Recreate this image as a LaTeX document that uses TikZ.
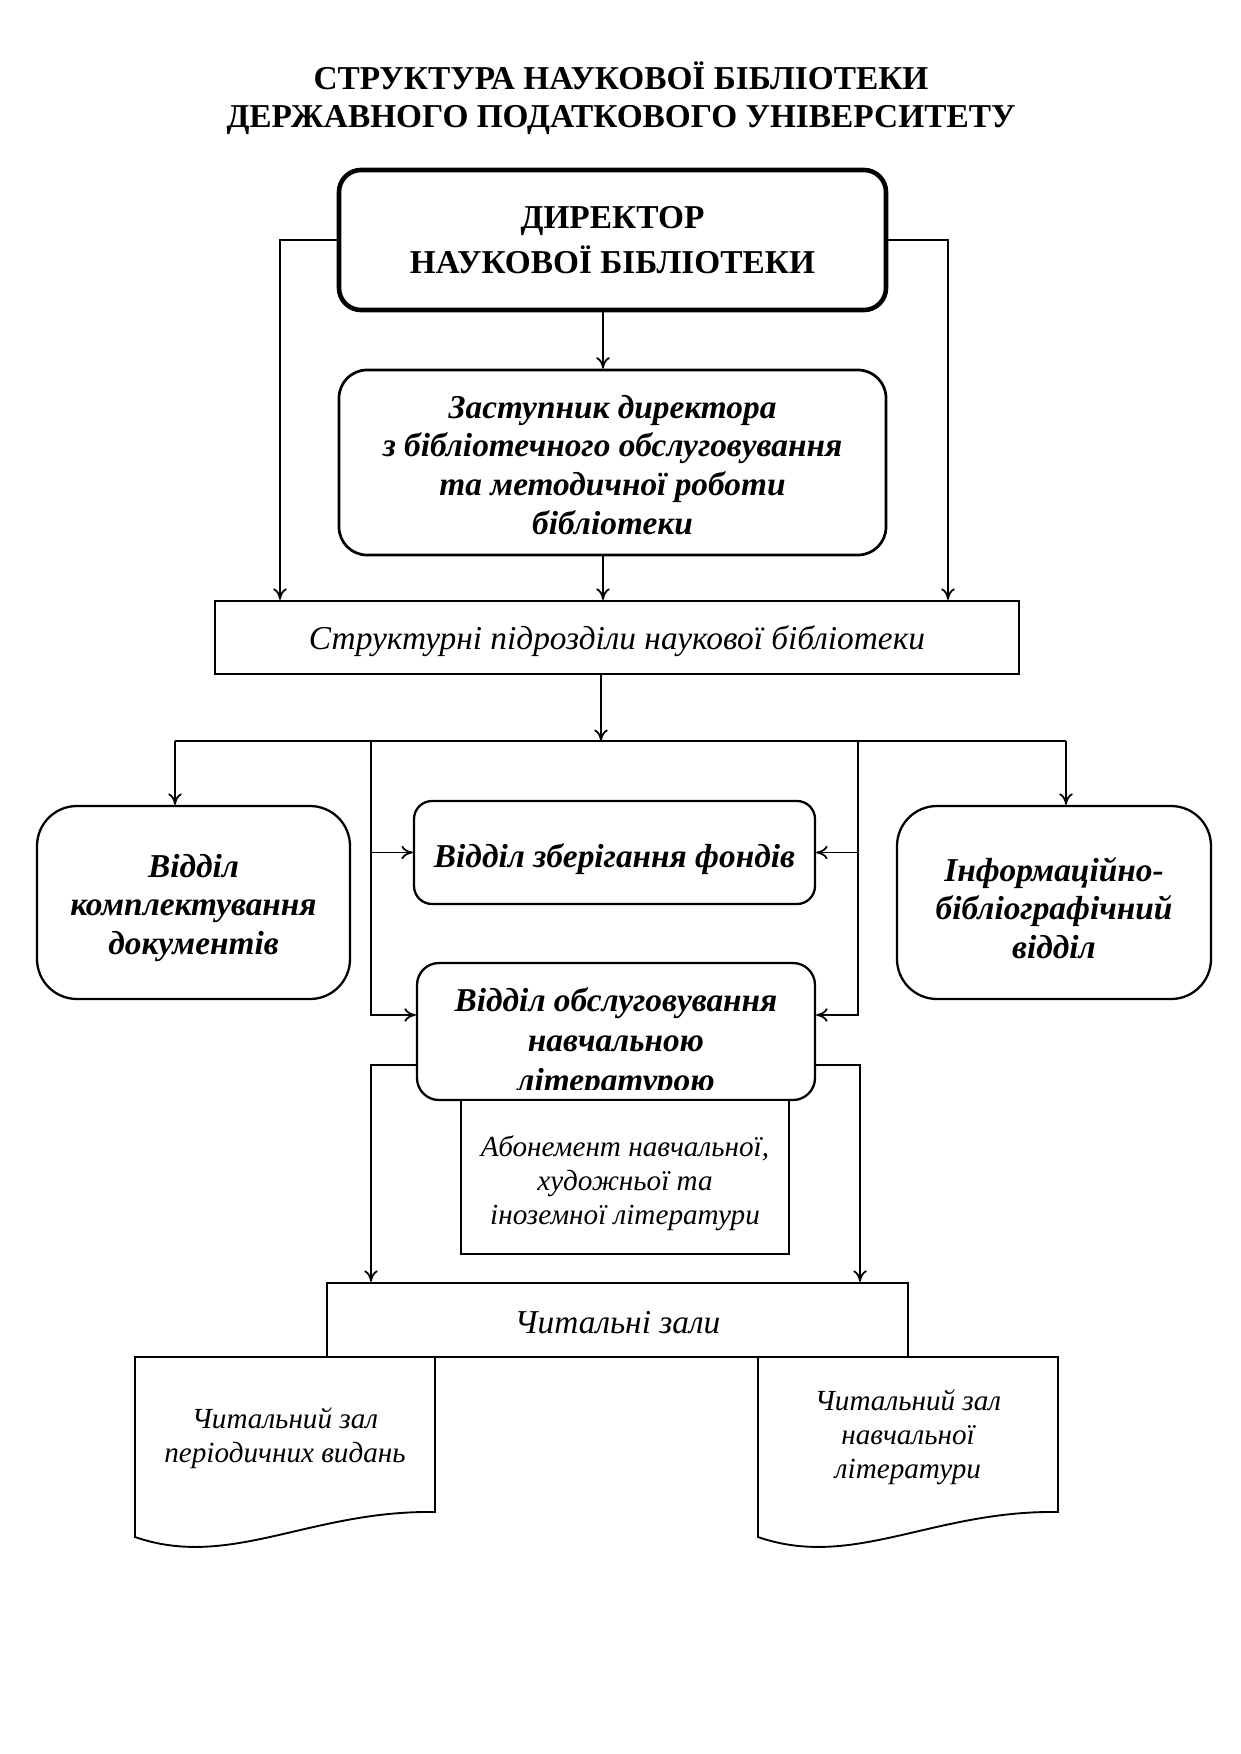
\documentclass[tikz,border=0pt]{standalone}
\usepackage{fontspec}
\setmainfont{Liberation Serif}
\usetikzlibrary{arrows.meta,calc}
\newdimen\pxu
\pxu=0.4797pt
\begin{document}
\begin{tikzpicture}[x=0.4797pt,y=-0.4797pt,
  every node/.style={inner sep=0pt, align=center},
  bx/.style={draw, line width=1.1pt},
  arr/.style={line width=0.85pt, -{To[length=5.5pt,width=6.5pt]}},
  ln/.style={line width=0.85pt},
  tb/.style={font=\fontsize{16}{18.6}\selectfont\bfseries\itshape},
  ti/.style={font=\fontsize{16}{18.6}\selectfont\itshape},
  tis/.style={font=\fontsize{14}{16.2}\selectfont\itshape},
  docs/.style={draw, line width=0.9pt},
]
\useasboundingbox (0,0) rectangle (1241,1754);
% title
\node[font=\fontsize{16}{18}\selectfont\bfseries, anchor=base] (t1) at (621,90) {СТРУКТУРА НАУКОВОЇ БІБЛІОТЕКИ};
\node[font=\fontsize{16}{18}\selectfont\bfseries, anchor=base] (t2) at (621,127) {ДЕРЖАВНОГО ПОДАТКОВОГО УНІВЕРСИТЕТУ};
% boxes
\node[bx, line width=2.2pt, rounded corners=22\pxu, minimum width=547\pxu, minimum height=140\pxu,
      font=\fontsize{16}{21.5}\selectfont\bfseries] (dir) at (612.5,240) {ДИРЕКТОР\\НАУКОВОЇ БІБЛІОТЕКИ};
\node[bx, line width=1.3pt, rounded corners=28\pxu, minimum width=547\pxu, minimum height=185\pxu] (dep) at (612.5,462.5) {};
\node[tb] (dept) at (612.5,465) {Заступник директора\\з бібліотечного обслуговування\\та методичної роботи\\бібліотеки};
\node[bx, minimum width=804\pxu, minimum height=73\pxu] (str) at (617,637.5) {};
\node[ti] (strt) at (617,641.5) {Структурні підрозділи наукової бібліотеки};
\node[bx, rounded corners=40\pxu, minimum width=313\pxu, minimum height=193\pxu] (kom) at (193.5,902.5) {};
\node[tb] (komt) at (193.5,908) {Відділ\\комплектування\\документів};
\node[bx, rounded corners=40\pxu, minimum width=314\pxu, minimum height=193\pxu] (info) at (1054,902.5) {};
\node[tb] (infot) at (1054,908) {Інформаційно-\\бібліографічний\\відділ};
\node[bx, rounded corners=18\pxu, minimum width=401\pxu, minimum height=103\pxu] (zber) at (614.5,852.5) {};
\node[tb] (zbert) at (614.5,859) {Відділ зберігання фондів};
\node[bx, rounded corners=22\pxu, minimum width=398\pxu, minimum height=137\pxu] (obsl) at (616,1031.5) {};
\coordinate (clipy) at (0,1089);
\begin{scope}
  \clip (obsl.north west) rectangle (obsl.east |- clipy);
  \node[tb, font=\fontsize{16}{19.2}\selectfont\bfseries\itshape] (obslt) at (616,1043) {Відділ обслуговування\\навчальною\\літературою};
\end{scope}
\node[bx, fill=white, minimum width=328\pxu, minimum height=154\pxu] (abon) at (625,1177) {};
\node[tis] (abont) at (625,1183) {Абонемент навчальної,\\художньої та\\іноземної літератури};
\node[bx, minimum width=581\pxu, minimum height=74\pxu] (chz) at (617.5,1320) {};
\node[ti] (chzt) at (617.5,1323) {Читальні зали};
% reading room documents
\draw[docs] (435,1357) -- (135,1357) -- (135,1537) .. controls (230,1570) and (310,1510) .. (435,1512) -- cycle;
\draw[docs] (1058,1357) -- (758,1357) -- (758,1537) .. controls (853,1570) and (933,1510) .. (1058,1512) -- cycle;
\node[tis] (d1) at (285,1438) {Читальний зал\\періодичних видань};
\node[tis] (d2) at (908,1437) {Читальний зал\\навчальної\\літератури};
% coordinates
\coordinate (lx) at (280,0);
\coordinate (rx) at (948,0);
\coordinate (mx) at (603,0);
\coordinate (sx) at (601,0);
\coordinate (busL) at (175,741);
\coordinate (busR) at (1066,741);
\coordinate (busM) at (601,741);
\coordinate (vl) at (371,741);
\coordinate (vr) at (858,741);
\coordinate (vlb) at (371,1015);
\coordinate (vrb) at (858,1015);
\coordinate (ol) at (371,1065);
\coordinate (or) at (860,1065);
% connectors
\draw[arr] (dir.west) -| (lx |- str.north);
\draw[arr] (dir.east) -| (rx |- str.north);
\draw[arr] (mx |- dir.south) -- (mx |- dep.north);
\draw[arr] (mx |- dep.south) -- (mx |- str.north);
\draw[arr] (sx |- str.south) -- (busM);
\draw[ln] (busL) -- (busR);
\draw[arr] (busL) -- (busL |- kom.north);
\draw[arr] (busR) -- (busR |- info.north);
\draw[arr] (vl) |- (obsl.west |- vlb);
\draw[arr] (vr) |- (obsl.east |- vrb);
\draw[arr] (vl |- zber.west) -- (zber.west);
\draw[arr] (vr |- zber.east) -- (zber.east);
\draw[arr] (obsl.west |- ol) -| (ol |- chz.north);
\draw[arr] (obsl.east |- or) -| (or |- chz.north);
\end{tikzpicture}
\end{document}
